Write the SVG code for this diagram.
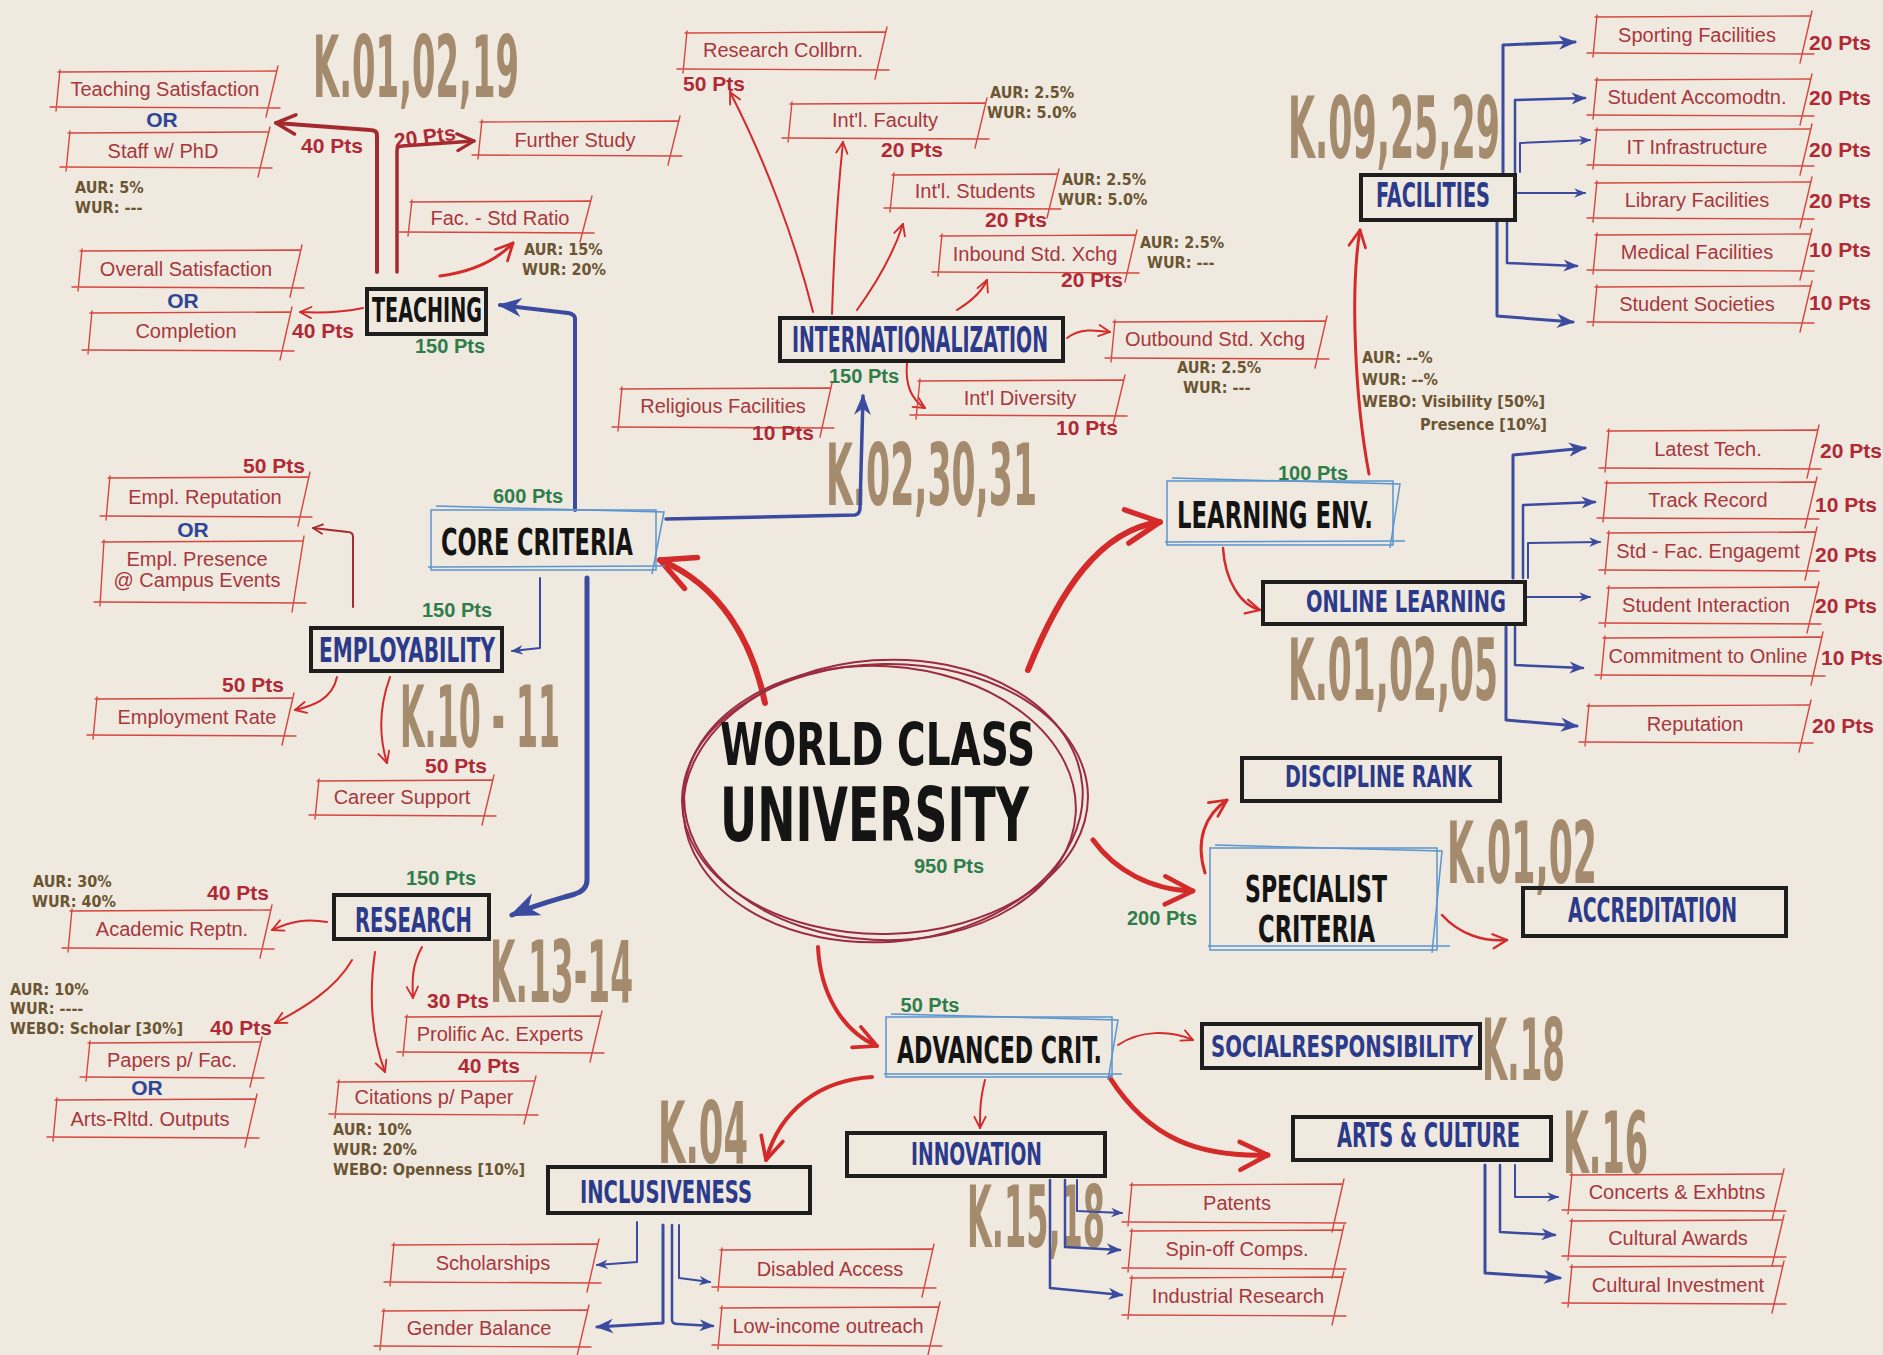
<svg xmlns="http://www.w3.org/2000/svg" width="1883" height="1355" viewBox="0 0 1883 1355">
<defs>
<style>
.bg{fill:#EFE9DF}
.bx{fill:none;stroke:#D6463F;stroke-width:1.4;stroke-linecap:round}
.bt{font-family:"Liberation Sans",Arial,sans-serif;font-size:20px;fill:#A8373D;text-anchor:middle}
.pr{font-family:"Liberation Sans",Arial,sans-serif;font-weight:bold;font-size:21px;fill:#B02A36;text-anchor:middle}
.pg{font-family:"Liberation Sans",Arial,sans-serif;font-weight:bold;font-size:20px;fill:#2F7D4A;text-anchor:middle}
.au{font-family:"DejaVu Sans Condensed","DejaVu Sans",sans-serif;font-stretch:condensed;font-weight:bold;font-size:16px;fill:#6B5532}
.or{font-family:"Liberation Sans",Arial,sans-serif;font-weight:bold;font-size:21px;fill:#2F4596;text-anchor:middle}
.kl{font-family:"DejaVu Sans Condensed","DejaVu Sans",sans-serif;font-stretch:condensed;font-weight:bold;font-size:86px;fill:#A58B6E}
.mn{font-family:"DejaVu Sans Condensed","DejaVu Sans",sans-serif;font-stretch:condensed;font-weight:bold;fill:#2C3A8C}
.mk{font-family:"DejaVu Sans Condensed","DejaVu Sans",sans-serif;font-stretch:condensed;font-weight:bold;fill:#141414}
.nb{fill:none;stroke:#1E1E1E;stroke-width:4}
.lb{fill:none;stroke:#5B95CF;stroke-width:1.5}
.cr{fill:none;stroke:#D42A2A;stroke-linecap:round}
.cd{fill:none;stroke:#A52A2E;stroke-linecap:round}
.cb{fill:none;stroke:#3B4BA0;stroke-linecap:round;stroke-linejoin:round}
.el{fill:none;stroke:#9B2C40;stroke-width:2}
</style>
<marker id="mr" viewBox="0 0 10 10" refX="9" refY="5" markerWidth="7" markerHeight="7" orient="auto" markerUnits="strokeWidth"><path d="M1,1 L9,5 L1,9" fill="none" stroke="#D42A2A" stroke-width="1.3" stroke-linecap="round" stroke-linejoin="round"/></marker>
<marker id="md" viewBox="0 0 10 10" refX="9" refY="5" markerWidth="6" markerHeight="6" orient="auto" markerUnits="strokeWidth"><path d="M1,1 L9,5 L1,9" fill="none" stroke="#A52A2E" stroke-width="1.5" stroke-linecap="round" stroke-linejoin="round"/></marker>
<marker id="mb" viewBox="0 0 10 10" refX="9" refY="5" markerWidth="6" markerHeight="6" orient="auto" markerUnits="strokeWidth"><path d="M0,1 L10,5 L0,9 L3,5 Z" fill="#3B4BA0"/></marker>
</defs>
<rect class="bg" x="0" y="0" width="1883" height="1355"/>

<g id="k-labels">
<text class="kl" x="313" y="97" textLength="206" lengthAdjust="spacingAndGlyphs">K.01,02,19</text>
<text class="kl" x="1288" y="158" textLength="212" lengthAdjust="spacingAndGlyphs">K.09,25,29</text>
<text class="kl" x="826" y="505" textLength="211" lengthAdjust="spacingAndGlyphs">K.02,30,31</text>
<text class="kl" x="1288" y="700" textLength="210" lengthAdjust="spacingAndGlyphs">K.01,02,05</text>
<text class="kl" x="400" y="747" textLength="160" lengthAdjust="spacingAndGlyphs">K.10 - 11</text>
<text class="kl" x="490" y="1002" textLength="143" lengthAdjust="spacingAndGlyphs">K.13-14</text>
<text class="kl" x="658" y="1163" textLength="90" lengthAdjust="spacingAndGlyphs">K.04</text>
<text class="kl" x="967" y="1247" textLength="138" lengthAdjust="spacingAndGlyphs">K.15,18</text>
<text class="kl" x="1447" y="883" textLength="150" lengthAdjust="spacingAndGlyphs">K.01,02</text>
<text class="kl" x="1482" y="1080" textLength="83" lengthAdjust="spacingAndGlyphs">K.18</text>
<text class="kl" x="1563" y="1173" textLength="85" lengthAdjust="spacingAndGlyphs">K.16</text>
</g>

<g id="connectors">
<path class="cr" stroke-width="6" marker-end="url(#mr)" d="M765,703 C752,640 720,585 660,560"/>
<path class="cr" stroke-width="6" marker-end="url(#mr)" d="M1028,670 C1060,590 1100,530 1160,522"/>
<path class="cr" stroke-width="5" marker-end="url(#mr)" d="M1093,840 C1115,870 1150,890 1193,891"/>
<path class="cr" stroke-width="4" marker-end="url(#mr)" d="M818,947 C820,990 840,1030 877,1046"/>
<path class="cr" stroke-width="4" marker-end="url(#mr)" d="M872,1077 C820,1080 780,1110 766,1160"/>
<path class="cr" stroke-width="2" marker-end="url(#mr)" d="M1118,1045 C1140,1030 1170,1030 1193,1040"/>
<path class="cr" stroke-width="5" marker-end="url(#mr)" d="M1110,1078 C1150,1140 1200,1157 1268,1155"/>
<path class="cr" stroke-width="2" marker-end="url(#mr)" d="M985,1080 C980,1100 980,1110 980,1128"/>
<path class="cr" stroke-width="3" marker-end="url(#mr)" d="M1205,873 C1195,840 1205,815 1227,800"/>
<path class="cr" stroke-width="2.5" marker-end="url(#mr)" d="M1442,915 C1460,935 1485,942 1507,940"/>
<path class="cr" stroke-width="2.5" marker-end="url(#mr)" d="M1223,548 C1225,580 1240,605 1260,610"/>
<path class="cr" stroke-width="3" marker-end="url(#mr)" d="M1369,474 C1355,400 1350,290 1360,230"/>
<path class="cr" stroke-width="2" marker-end="url(#mr)" d="M813,312 C795,240 765,160 730,92"/>
<path class="cr" stroke-width="2" marker-end="url(#mr)" d="M832,314 C834,250 838,190 843,142"/>
<path class="cr" stroke-width="2" marker-end="url(#mr)" d="M857,310 C875,285 893,255 903,224"/>
<path class="cr" stroke-width="2" marker-end="url(#mr)" d="M957,310 C970,302 982,292 987,280"/>
<path class="cr" stroke-width="2" marker-end="url(#mr)" d="M1067,338 C1080,328 1095,330 1110,332"/>
<path class="cr" stroke-width="2" marker-end="url(#mr)" d="M907,363 C905,385 912,400 925,408"/>
<path class="cr" stroke-width="3" marker-end="url(#mr)" d="M440,276 C470,272 495,262 513,243"/>
<path class="cr" stroke-width="2" marker-end="url(#mr)" d="M363,308 C340,313 320,313 300,312"/>
<path class="cd" stroke-width="4" marker-end="url(#md)" d="M377,272 L377,135 Q377,130 370,130 L276,123"/>
<path class="cd" stroke-width="3.5" marker-end="url(#md)" d="M397,272 L397,150 Q397,146 402,146 L474,141"/>
<path class="cd" stroke-width="2" marker-end="url(#md)" d="M353,607 L353,537 Q353,532 348,532 L313,528"/>
<path class="cr" stroke-width="2" marker-end="url(#mr)" d="M337,677 C332,700 312,706 295,710"/>
<path class="cr" stroke-width="2" marker-end="url(#mr)" d="M390,677 C378,710 380,740 387,763"/>
<path class="cr" stroke-width="2" marker-end="url(#mr)" d="M327,922 C305,918 290,922 272,930"/>
<path class="cr" stroke-width="2" marker-end="url(#mr)" d="M352,960 C335,990 300,1010 275,1023"/>
<path class="cr" stroke-width="2" marker-end="url(#mr)" d="M375,952 C368,1000 373,1040 385,1072"/>
<path class="cr" stroke-width="2" marker-end="url(#mr)" d="M422,947 C412,965 412,980 413,998"/>
<path class="cb" stroke-width="4" marker-end="url(#mb)" d="M575,510 L575,318 Q574,314 568,313 L500,305"/>
<path class="cb" stroke-width="3.5" marker-end="url(#mb)" d="M666,519 L855,515 Q860,514 860,508 L863,396"/>
<path class="cb" stroke-width="2" marker-end="url(#mb)" d="M540,578 L540,648 L512,651"/>
<path class="cb" stroke-width="5" marker-end="url(#mb)" d="M587,578 L587,880 Q587,890 575,894 C555,900 535,905 512,915"/>
<path class="cb" stroke-width="3" marker-end="url(#mb)" d="M1503,172 L1503,45 L1575,42"/>
<path class="cb" stroke-width="2.5" marker-end="url(#mb)" d="M1515,172 L1515,100 L1585,98"/>
<path class="cb" stroke-width="2" marker-end="url(#mb)" d="M1520,172 L1520,143 L1590,140"/>
<path class="cb" stroke-width="2" marker-end="url(#mb)" d="M1518,193 L1585,193"/>
<path class="cb" stroke-width="2.5" marker-end="url(#mb)" d="M1507,222 L1507,263 L1577,266"/>
<path class="cb" stroke-width="3" marker-end="url(#mb)" d="M1497,222 L1497,316 L1573,322"/>
<path class="cb" stroke-width="3" marker-end="url(#mb)" d="M1513,578 L1513,455 L1585,448"/>
<path class="cb" stroke-width="2.5" marker-end="url(#mb)" d="M1523,578 L1523,505 L1595,502"/>
<path class="cb" stroke-width="2" marker-end="url(#mb)" d="M1528,578 L1528,543 L1600,542"/>
<path class="cb" stroke-width="2" marker-end="url(#mb)" d="M1527,597 L1590,597"/>
<path class="cb" stroke-width="2.5" marker-end="url(#mb)" d="M1515,627 L1515,665 L1583,668"/>
<path class="cb" stroke-width="3" marker-end="url(#mb)" d="M1506,627 L1506,720 L1577,726"/>
<path class="cb" stroke-width="2" marker-end="url(#mb)" d="M637,1222 L637,1262 L597,1265"/>
<path class="cb" stroke-width="3" marker-end="url(#mb)" d="M663,1225 L663,1323 L597,1327"/>
<path class="cb" stroke-width="2.5" marker-end="url(#mb)" d="M672,1225 L672,1320 Q672,1324 678,1324 L713,1326"/>
<path class="cb" stroke-width="2" marker-end="url(#mb)" d="M679,1225 L679,1278 L710,1282"/>
<path class="cb" stroke-width="2.5" marker-end="url(#mb)" d="M1050,1180 L1050,1288 L1122,1295"/>
<path class="cb" stroke-width="2.5" marker-end="url(#mb)" d="M1065,1180 L1065,1247 L1120,1250"/>
<path class="cb" stroke-width="2" marker-end="url(#mb)" d="M1077,1180 L1077,1211 L1122,1213"/>
<path class="cb" stroke-width="2" marker-end="url(#mb)" d="M1515,1165 L1515,1197 L1558,1197"/>
<path class="cb" stroke-width="2.5" marker-end="url(#mb)" d="M1500,1165 L1500,1232 L1555,1235"/>
<path class="cb" stroke-width="3" marker-end="url(#mb)" d="M1485,1165 L1485,1273 L1560,1278"/>
</g>

<g id="wcu">
<ellipse class="el" cx="883" cy="801" rx="200" ry="141" transform="rotate(-4 883 801)"/>
<ellipse class="el" cx="880" cy="803" rx="196" ry="137" transform="rotate(3 880 803)"/>
<ellipse class="el" cx="885" cy="799" rx="203" ry="135" transform="rotate(-1 885 799)"/>
<text class="mk" x="720" y="765" font-size="58" font-weight="900" textLength="315" lengthAdjust="spacingAndGlyphs">WORLD CLASS</text>
<text class="mk" x="720" y="841" font-size="74" textLength="309" lengthAdjust="spacingAndGlyphs">UNIVERSITY</text>
<text class="pg" x="949" y="873">950 Pts</text>
</g>

<g id="core-criteria">
<rect class="lb" x="431" y="510" width="225" height="60"/>
<path class="lb" d="M436,506 L664,512 L652,574 M428,567 L665,566"/>
<text class="mk" x="441" y="555" font-size="37" textLength="192" lengthAdjust="spacingAndGlyphs">CORE CRITERIA</text>
<text class="pg" x="528" y="503">600 Pts</text>
</g>
<g id="learning-env">
<rect class="lb" x="1167" y="481" width="226" height="64"/>
<path class="lb" d="M1172,478 L1400,484 L1390,548 M1165,542 L1405,541"/>
<text class="mk" x="1177" y="528" font-size="38" textLength="196" lengthAdjust="spacingAndGlyphs">LEARNING ENV.</text>
<text class="pg" x="1313" y="480">100 Pts</text>
</g>
<g id="advanced-crit">
<rect class="lb" x="886" y="1017" width="226" height="60"/>
<path class="lb" d="M891,1014 L1118,1020 L1108,1080 M884,1074 L1122,1074"/>
<text class="mk" x="897" y="1063" font-size="38" textLength="205" lengthAdjust="spacingAndGlyphs">ADVANCED CRIT.</text>
<text class="pg" x="930" y="1012">50 Pts</text>
</g>
<g id="specialist-criteria">
<rect class="lb" x="1210" y="848" width="227" height="102"/>
<path class="lb" d="M1215,845 L1442,851 L1432,953 M1208,946 L1450,946"/>
<text class="mk" x="1245" y="902" font-size="37" textLength="142" lengthAdjust="spacingAndGlyphs">SPECIALIST</text>
<text class="mk" x="1258" y="942" font-size="37" textLength="117" lengthAdjust="spacingAndGlyphs">CRITERIA</text>
<text class="pg" x="1162" y="925">200 Pts</text>
</g>

<g id="teaching">
<rect class="nb" x="367" y="289" width="119" height="45"/>
<text class="mk" x="372" y="322" font-size="34" textLength="110" lengthAdjust="spacingAndGlyphs">TEACHING</text>
<text class="pg" x="450" y="353">150 Pts</text>
</g>
<g id="internationalization">
<rect class="nb" x="780" y="318" width="283" height="43"/>
<text class="mn" x="792" y="352" font-size="36" textLength="256" lengthAdjust="spacingAndGlyphs">INTERNATIONALIZATION</text>
<text class="pg" x="864" y="383">150 Pts</text>
</g>
<g id="facilities">
<rect class="nb" x="1361" y="175" width="154" height="45"/>
<text class="mn" x="1376" y="207" font-size="34" textLength="114" lengthAdjust="spacingAndGlyphs">FACILITIES</text>
</g>
<g id="employability">
<rect class="nb" x="311" y="628" width="191" height="43"/>
<text class="mn" x="319" y="662" font-size="33" textLength="176" lengthAdjust="spacingAndGlyphs">EMPLOYABILITY</text>
<text class="pg" x="457" y="617">150 Pts</text>
</g>
<g id="research">
<rect class="nb" x="334" y="895" width="155" height="44"/>
<text class="mn" x="355" y="932" font-size="33" textLength="117" lengthAdjust="spacingAndGlyphs">RESEARCH</text>
<text class="pg" x="441" y="885">150 Pts</text>
</g>
<g id="online-learning">
<rect class="nb" x="1263" y="582" width="262" height="42"/>
<text class="mn" x="1306" y="612" font-size="31" textLength="200" lengthAdjust="spacingAndGlyphs">ONLINE  LEARNING</text>
</g>
<g id="discipline-rank">
<rect class="nb" x="1242" y="758" width="258" height="43"/>
<text class="mn" x="1285" y="787" font-size="31" textLength="187" lengthAdjust="spacingAndGlyphs">DISCIPLINE RANK</text>
</g>
<g id="accreditation">
<rect class="nb" x="1523" y="888" width="263" height="48"/>
<text class="mn" x="1568" y="922" font-size="33" textLength="169" lengthAdjust="spacingAndGlyphs">ACCREDITATION</text>
</g>
<g id="social-responsibility">
<rect class="nb" x="1202" y="1024" width="278" height="44"/>
<text class="mn" x="1211" y="1057" font-size="30" textLength="262" lengthAdjust="spacingAndGlyphs">SOCIALRESPONSIBILITY</text>
</g>
<g id="arts-culture">
<rect class="nb" x="1293" y="1117" width="258" height="43"/>
<text class="mn" x="1337" y="1147" font-size="33" textLength="183" lengthAdjust="spacingAndGlyphs">ARTS &amp; CULTURE</text>
</g>
<g id="innovation">
<rect class="nb" x="847" y="1133" width="258" height="43"/>
<text class="mn" x="911" y="1165" font-size="32" textLength="131" lengthAdjust="spacingAndGlyphs">INNOVATION</text>
</g>
<g id="inclusiveness">
<rect class="nb" x="548" y="1167" width="262" height="46"/>
<text class="mn" x="580" y="1203" font-size="32" textLength="172" lengthAdjust="spacingAndGlyphs">INCLUSIVENESS</text>
</g>

<g id="teaching-satisfaction"><path class="bx" d="M58,72L276,71M50,107L280,108M60,70L56,111M278,66L266,117"/><text class="bt" x="165" y="96">Teaching Satisfaction</text></g>
<text class="or" x="162" y="127">OR</text>
<g id="staff-phd"><path class="bx" d="M68,133L268,132M60,167L272,168M70,131L66,171M270,127L258,177"/><text class="bt" x="163" y="158">Staff w/ PhD</text></g>
<g id="overall-satisfaction"><path class="bx" d="M80,251L300,250M72,287L304,288M82,249L78,291M302,245L290,297"/><text class="bt" x="186" y="276">Overall Satisfaction</text></g>
<text class="or" x="183" y="308">OR</text>
<g id="completion"><path class="bx" d="M90,313L290,312M82,350L294,351M92,311L88,354M292,307L280,360"/><text class="bt" x="186" y="338">Completion</text></g>
<g id="further-study"><path class="bx" d="M480,122L678,121M472,155L682,156M482,120L478,159M680,116L668,165"/><text class="bt" x="575" y="147">Further Study</text></g>
<g id="fac-std-ratio"><path class="bx" d="M398,232L594,233M410,202L590,201M412,200L408,236M592,196L580,242"/><text class="bt" x="500" y="225">Fac. - Std Ratio</text></g>
<g id="research-collbrn"><path class="bx" d="M685,33L885,32M677,69L889,70M687,31L683,73M887,27L875,79"/><text class="bt" x="783" y="57">Research Collbrn.</text></g>
<g id="intl-faculty"><path class="bx" d="M790,104L985,103M782,138L989,139M792,102L788,142M987,98L975,148"/><text class="bt" x="885" y="127">Int'l. Faculty</text></g>
<g id="intl-students"><path class="bx" d="M892,175L1057,174M884,208L1061,209M894,173L890,212M1059,169L1047,218"/><text class="bt" x="975" y="198">Int'l. Students</text></g>
<g id="inbound"><path class="bx" d="M940,236L1135,235M932,272L1139,273M942,234L938,276M1137,230L1125,282"/><text class="bt" x="1035" y="261">Inbound Std. Xchg</text></g>
<g id="outbound"><path class="bx" d="M1113,322L1325,321M1105,358L1329,359M1115,320L1111,362M1327,316L1315,368"/><text class="bt" x="1215" y="346">Outbound Std. Xchg</text></g>
<g id="intl-diversity"><path class="bx" d="M918,381L1123,380M910,415L1127,416M920,379L916,419M1125,375L1113,425"/><text class="bt" x="1020" y="405">Int'l Diversity</text></g>
<g id="religious"><path class="bx" d="M620,389L830,388M612,427L834,428M622,387L618,431M832,383L820,437"/><text class="bt" x="723" y="413">Religious Facilities</text></g>
<g id="sporting"><path class="bx" d="M1595,17L1810,16M1587,53L1814,54M1597,15L1593,57M1812,11L1800,63"/><text class="bt" x="1697" y="42">Sporting Facilities</text></g>
<g id="accomodation"><path class="bx" d="M1595,80L1810,79M1587,115L1814,116M1597,78L1593,119M1812,74L1800,125"/><text class="bt" x="1697" y="104">Student Accomodtn.</text></g>
<g id="it-infra"><path class="bx" d="M1595,130L1810,129M1587,165L1814,166M1597,128L1593,169M1812,124L1800,175"/><text class="bt" x="1697" y="154">IT Infrastructure</text></g>
<g id="library"><path class="bx" d="M1595,183L1810,182M1587,218L1814,219M1597,181L1593,222M1812,177L1800,228"/><text class="bt" x="1697" y="207">Library Facilities</text></g>
<g id="medical"><path class="bx" d="M1595,235L1810,234M1587,270L1814,271M1597,233L1593,274M1812,229L1800,280"/><text class="bt" x="1697" y="259">Medical Facilities</text></g>
<g id="societies"><path class="bx" d="M1595,287L1810,286M1587,322L1814,323M1597,285L1593,326M1812,281L1800,332"/><text class="bt" x="1697" y="311">Student Societies</text></g>
<g id="latest-tech"><path class="bx" d="M1607,431L1817,430M1599,468L1821,469M1609,429L1605,472M1819,425L1807,478"/><text class="bt" x="1708" y="456">Latest Tech.</text></g>
<g id="track-record"><path class="bx" d="M1605,483L1815,482M1597,518L1819,519M1607,481L1603,522M1817,477L1805,528"/><text class="bt" x="1708" y="507">Track Record</text></g>
<g id="std-fac"><path class="bx" d="M1607,533L1815,532M1599,570L1819,571M1609,531L1605,574M1817,527L1805,580"/><text class="bt" x="1708" y="558">Std - Fac. Engagemt</text></g>
<g id="student-interaction"><path class="bx" d="M1607,588L1817,587M1599,623L1821,624M1609,586L1605,627M1819,582L1807,633"/><text class="bt" x="1706" y="612">Student Interaction</text></g>
<g id="commitment"><path class="bx" d="M1603,638L1821,637M1595,675L1825,676M1605,636L1601,679M1823,632L1811,685"/><text class="bt" x="1708" y="663">Commitment to Online</text></g>
<g id="reputation"><path class="bx" d="M1587,706L1809,705M1579,742L1813,743M1589,704L1585,746M1811,700L1799,752"/><text class="bt" x="1695" y="731">Reputation</text></g>
<g id="empl-reputation"><path class="bx" d="M108,478L308,477M100,516L312,517M110,476L106,520M310,472L298,526"/><text class="bt" x="205" y="504">Empl. Reputation</text></g>
<text class="or" x="193" y="537">OR</text>
<g id="empl-presence"><path class="bx" d="M102,542L302,541M94,602L306,603M104,540L100,606M304,536L292,612"/><text class="bt" x="197" y="566">Empl. Presence</text><text class="bt" x="197" y="587">@ Campus Events</text></g>
<g id="employment-rate"><path class="bx" d="M95,699L292,698M87,735L296,736M97,697L93,739M294,693L282,745"/><text class="bt" x="197" y="724">Employment Rate</text></g>
<g id="career-support"><path class="bx" d="M317,781L492,780M309,815L496,816M319,779L315,819M494,775L482,825"/><text class="bt" x="402" y="804">Career Support</text></g>
<g id="academic-reptn"><path class="bx" d="M70,911L270,910M62,948L274,949M72,909L68,952M272,905L260,958"/><text class="bt" x="172" y="936">Academic Reptn.</text></g>
<g id="papers"><path class="bx" d="M88,1043L260,1042M80,1077L264,1078M90,1041L86,1081M262,1037L250,1087"/><text class="bt" x="172" y="1067">Papers p/ Fac.</text></g>
<text class="or" x="147" y="1095">OR</text>
<g id="arts-outputs"><path class="bx" d="M55,1100L255,1099M47,1137L259,1138M57,1098L53,1141M257,1094L245,1147"/><text class="bt" x="150" y="1126">Arts-Rltd. Outputs</text></g>
<g id="prolific"><path class="bx" d="M405,1017L600,1016M397,1052L604,1053M407,1015L403,1056M602,1011L590,1062"/><text class="bt" x="500" y="1041">Prolific Ac. Experts</text></g>
<g id="citations"><path class="bx" d="M337,1082L534,1081M329,1114L538,1115M339,1080L335,1118M536,1076L524,1124"/><text class="bt" x="434" y="1104">Citations p/ Paper</text></g>
<g id="scholarships"><path class="bx" d="M392,1245L597,1244M384,1282L601,1283M394,1243L390,1286M599,1239L587,1292"/><text class="bt" x="493" y="1270">Scholarships</text></g>
<g id="gender-balance"><path class="bx" d="M382,1311L587,1310M374,1346L591,1347M384,1309L380,1350M589,1305L577,1356"/><text class="bt" x="479" y="1335">Gender Balance</text></g>
<g id="disabled-access"><path class="bx" d="M720,1250L932,1249M712,1287L936,1288M722,1248L718,1291M934,1244L922,1297"/><text class="bt" x="830" y="1276">Disabled Access</text></g>
<g id="low-income"><path class="bx" d="M720,1308L938,1307M712,1345L942,1346M722,1306L718,1349M940,1302L928,1355"/><text class="bt" x="828" y="1333">Low-income outreach</text></g>
<g id="patents"><path class="bx" d="M1130,1185L1342,1184M1122,1222L1346,1223M1132,1183L1128,1226M1344,1179L1332,1232"/><text class="bt" x="1237" y="1210">Patents</text></g>
<g id="spin-off"><path class="bx" d="M1130,1231L1342,1230M1122,1268L1346,1269M1132,1229L1128,1272M1344,1225L1332,1278"/><text class="bt" x="1237" y="1256">Spin-off Comps.</text></g>
<g id="industrial"><path class="bx" d="M1130,1278L1342,1277M1122,1315L1346,1316M1132,1276L1128,1319M1344,1272L1332,1325"/><text class="bt" x="1238" y="1303">Industrial Research</text></g>
<g id="concerts"><path class="bx" d="M1570,1175L1782,1174M1562,1210L1786,1211M1572,1173L1568,1214M1784,1169L1772,1220"/><text class="bt" x="1677" y="1199">Concerts &amp; Exhbtns</text></g>
<g id="cultural-awards"><path class="bx" d="M1570,1221L1782,1220M1562,1256L1786,1257M1572,1219L1568,1260M1784,1215L1772,1266"/><text class="bt" x="1678" y="1245">Cultural Awards</text></g>
<g id="cultural-investment"><path class="bx" d="M1570,1267L1782,1266M1562,1303L1786,1304M1572,1265L1568,1307M1784,1261L1772,1313"/><text class="bt" x="1678" y="1292">Cultural Investment</text></g>

<g id="points">
<text class="pr" x="332" y="153">40 Pts</text>
<text class="pr" x="425" y="144" transform="rotate(-8 425 138)">20 Pts</text>
<text class="pr" x="323" y="338">40 Pts</text>
<text class="pr" x="714" y="91">50 Pts</text>
<text class="pr" x="912" y="157">20 Pts</text>
<text class="pr" x="1016" y="227">20 Pts</text>
<text class="pr" x="1092" y="287">20 Pts</text>
<text class="pr" x="1087" y="435">10 Pts</text>
<text class="pr" x="783" y="440">10 Pts</text>
<text class="pr" x="1840" y="50">20 Pts</text>
<text class="pr" x="1840" y="105">20 Pts</text>
<text class="pr" x="1840" y="157">20 Pts</text>
<text class="pr" x="1840" y="208">20 Pts</text>
<text class="pr" x="1840" y="257">10 Pts</text>
<text class="pr" x="1840" y="310">10 Pts</text>
<text class="pr" x="1851" y="458">20 Pts</text>
<text class="pr" x="1846" y="512">10 Pts</text>
<text class="pr" x="1846" y="562">20 Pts</text>
<text class="pr" x="1846" y="613">20 Pts</text>
<text class="pr" x="1852" y="665">10 Pts</text>
<text class="pr" x="1843" y="733">20 Pts</text>
<text class="pr" x="274" y="473">50 Pts</text>
<text class="pr" x="253" y="692">50 Pts</text>
<text class="pr" x="456" y="773">50 Pts</text>
<text class="pr" x="238" y="900">40 Pts</text>
<text class="pr" x="241" y="1035">40 Pts</text>
<text class="pr" x="458" y="1008">30 Pts</text>
<text class="pr" x="489" y="1073">40 Pts</text>
</g>

<g id="weights">
<text class="au" x="75" y="193">AUR: 5%</text>
<text class="au" x="75" y="213">WUR: ---</text>
<text class="au" x="524" y="255">AUR: 15%</text>
<text class="au" x="522" y="275">WUR: 20%</text>
<text class="au" x="990" y="98">AUR: 2.5%</text>
<text class="au" x="987" y="118">WUR: 5.0%</text>
<text class="au" x="1062" y="185">AUR: 2.5%</text>
<text class="au" x="1058" y="205">WUR: 5.0%</text>
<text class="au" x="1140" y="248">AUR: 2.5%</text>
<text class="au" x="1147" y="268">WUR: ---</text>
<text class="au" x="1177" y="373">AUR: 2.5%</text>
<text class="au" x="1183" y="393">WUR: ---</text>
<text class="au" x="1362" y="363">AUR: --%</text>
<text class="au" x="1362" y="385">WUR: --%</text>
<text class="au" x="1362" y="407">WEBO: Visibility [50%]</text>
<text class="au" x="1420" y="430">Presence [10%]</text>
<text class="au" x="33" y="887">AUR: 30%</text>
<text class="au" x="32" y="907">WUR: 40%</text>
<text class="au" x="10" y="995">AUR: 10%</text>
<text class="au" x="10" y="1014">WUR: ----</text>
<text class="au" x="10" y="1034">WEBO: Scholar [30%]</text>
<text class="au" x="333" y="1135">AUR: 10%</text>
<text class="au" x="333" y="1155">WUR: 20%</text>
<text class="au" x="333" y="1175">WEBO: Openness [10%]</text>
</g>
</svg>
